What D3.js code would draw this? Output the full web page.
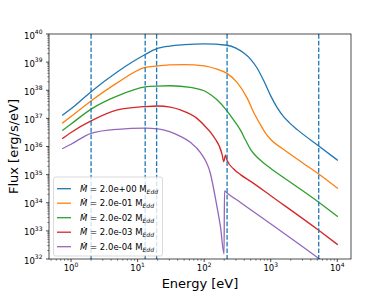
<!DOCTYPE html>
<html>
<head>
<meta charset="utf-8">
<script src="https://cdn.jsdelivr.net/npm/d3@7"></script>
<style>
  body { margin: 0; background: #fff; }
  text { font-family: "DejaVu Sans", sans-serif; fill: #000; }
</style>
</head>
<body>
<script>
// accretion rates shown in the legend
var rateLabels = ["2.0e+00", "2.0e-01", "2.0e-02", "2.0e-03", "2.0e-04"];
var colors = ["#1f77b4", "#ff7f0e", "#2ca02c", "#d62728", "#9467bd"];

// energies [eV] and log10 flux [erg/s/eV]
var energy0 = [0.75, 1, 2, 5, 13, 19, 30, 50, 100, 220, 300, 390, 500, 620, 800, 1000, 1250, 1560, 1900, 2500, 5200, 10000];
var logFlux0 = [37.12, 37.34, 37.95, 38.66, 39.27, 39.47, 39.57, 39.62, 39.65, 39.60, 39.50, 39.33, 39.10, 38.80, 38.30, 37.80, 37.38, 37.06, 36.85, 36.60, 36.03, 35.52];

var energy1 = [0.75, 1, 2, 5, 13, 19, 30, 50, 100, 156, 220, 312, 443, 558, 700, 850, 1000, 1240, 1640, 3000, 5260, 10000];
var logFlux1 = [36.84, 37.07, 37.62, 38.27, 38.81, 38.86, 38.90, 38.91, 38.87, 38.75, 38.60, 38.28, 37.72, 37.20, 36.78, 36.45, 36.25, 36.06, 35.86, 35.42, 35.02, 34.52];

var energy2 = [0.75, 1, 2, 5, 13, 19, 31, 62, 110, 156, 220, 278, 351, 420, 497, 600, 750, 1000, 1390, 2000, 5260, 10000];
var logFlux2 = [36.58, 36.80, 37.33, 37.80, 38.12, 38.15, 38.16, 38.10, 37.93, 37.66, 37.27, 36.94, 36.58, 36.22, 35.90, 35.66, 35.45, 35.22, 34.98, 34.72, 34.02, 33.52];

var energy3 = [0.75, 1, 2, 5, 13, 20, 31, 44, 78, 110, 139, 186, 197, 209, 220, 278, 351, 500, 1000, 5260, 10000];
var logFlux3 = [36.29, 36.50, 36.91, 37.30, 37.42, 37.44, 37.40, 37.30, 37.00, 36.65, 36.35, 35.72, 35.46, 35.69, 35.52, 35.20, 35.00, 34.76, 34.25, 33.02, 32.52];

var energy4 = [0.75, 1, 2, 5, 13, 20, 31, 44, 62, 88, 124, 156, 176, 199, 202, 220, 351, 5260, 10000];
var logFlux4 = [35.93, 36.08, 36.47, 36.61, 36.65, 36.63, 36.52, 36.36, 36.15, 35.78, 35.04, 33.85, 33.14, 32.18, 34.42, 34.35, 34.01, 32.02, 31.53];

var energies = [energy0, energy1, energy2, energy3, energy4];
var logFluxes = [logFlux0, logFlux1, logFlux2, logFlux3, logFlux4];

// dashed vertical markers [eV]
var markers = [2.0, 13.0, 19.3, 221, 5260];

var xTicks = [1, 10, 100, 1000, 10000];
var yTicks = [32, 33, 34, 35, 36, 37, 38, 39, 40];

var width = 390, height = 292;
var plotLeft = 49, plotRight = 351, plotTop = 34, plotBottom = 259;

var svg = d3.select("body").append("svg")
    .attr("width", width)
    .attr("height", height);

var x = d3.scaleLog().domain([Math.pow(10, -0.331), Math.pow(10, 4.206)]).range([plotLeft, plotRight]);
var y = d3.scaleLog().domain([1e32, 1e40]).range([plotBottom, plotTop]);

svg.append("clipPath").attr("id", "plot")
  .append("rect")
    .attr("x", plotLeft).attr("y", plotTop)
    .attr("width", plotRight - plotLeft).attr("height", plotBottom - plotTop);

var plot = svg.append("g").attr("clip-path", "url(#plot)");

// curves
var line = d3.line()
    .x(function(d) { return x(d[0]); })
    .y(function(d) { return y(Math.pow(10, d[1])); })
    .curve(d3.curveMonotoneX);

for (var i = 0; i < energies.length; i++) {
    var pts = energies[i].map(function(e, j) { return [e, logFluxes[i][j]]; });
    plot.append("path")
        .attr("d", line(pts))
        .attr("fill", "none")
        .attr("stroke", colors[i])
        .attr("stroke-width", 1.3)
        .attr("stroke-linejoin", "round")
        .attr("stroke-linecap", "square");
}

// vertical dashed lines
plot.selectAll("line.marker")
    .data(markers)
    .enter()
    .append("line")
    .attr("x1", function(d) { return x(d); })
    .attr("x2", function(d) { return x(d); })
    .attr("y1", plotTop)
    .attr("y2", plotBottom)
    .attr("stroke", "#1f77b4")
    .attr("stroke-width", 1.3)
    .attr("stroke-dasharray", "4.7,2");

// minor ticks
var xMinor = [];
for (var p = -1; p <= 4; p++) {
    for (var k = 2; k <= 9; k++) {
        var v = k * Math.pow(10, p);
        if (v >= x.domain()[0] && v <= x.domain()[1]) xMinor.push(v);
    }
}
svg.selectAll("line.xminor")
    .data(xMinor)
    .enter()
    .append("line")
    .attr("x1", function(d) { return x(d); })
    .attr("x2", function(d) { return x(d); })
    .attr("y1", plotBottom)
    .attr("y2", plotBottom + 1.7)
    .attr("stroke", "#000")
    .attr("stroke-width", 0.5);

var yMinor = [];
for (var p = 32; p < 40; p++) {
    for (var k = 2; k <= 9; k++) yMinor.push(k * Math.pow(10, p));
}
svg.selectAll("line.yminor")
    .data(yMinor)
    .enter()
    .append("line")
    .attr("x1", plotLeft - 1.7)
    .attr("x2", plotLeft)
    .attr("y1", function(d) { return y(d); })
    .attr("y2", function(d) { return y(d); })
    .attr("stroke", "#000")
    .attr("stroke-width", 0.5);

// major ticks and labels
var xt = svg.selectAll("g.xtick")
    .data(xTicks)
    .enter()
    .append("g")
    .attr("transform", function(d) { return "translate(" + x(d) + ",0)"; });
xt.append("line")
    .attr("y1", plotBottom).attr("y2", plotBottom + 3)
    .attr("stroke", "#000").attr("stroke-width", 0.7);
var xl = xt.append("text")
    .attr("y", 271)
    .attr("text-anchor", "middle")
    .style("font-size", "8.5px");
xl.append("tspan").text("10");
xl.append("tspan")
    .attr("dy", -4.5)
    .style("font-size", "6px")
    .text(function(d) { return Math.round(Math.log10(d)); });

var yt = svg.selectAll("g.ytick")
    .data(yTicks)
    .enter()
    .append("g")
    .attr("transform", function(d) { return "translate(0," + y(Math.pow(10, d)) + ")"; });
yt.append("line")
    .attr("x1", plotLeft - 3).attr("x2", plotLeft)
    .attr("stroke", "#000").attr("stroke-width", 0.7);
var yl = yt.append("text")
    .attr("x", 42.5)
    .attr("y", 4.5)
    .attr("text-anchor", "end")
    .style("font-size", "8.5px");
yl.append("tspan").text("10");
yl.append("tspan")
    .attr("dy", -4.5)
    .style("font-size", "6px")
    .text(function(d) { return d; });

// frame
svg.append("rect")
    .attr("x", plotLeft).attr("y", plotTop)
    .attr("width", plotRight - plotLeft).attr("height", plotBottom - plotTop)
    .attr("fill", "none")
    .attr("stroke", "#000")
    .attr("stroke-width", 0.7);

// axis labels
svg.append("text")
    .attr("x", (plotLeft + plotRight) / 2)
    .attr("y", 287.5)
    .attr("text-anchor", "middle")
    .style("font-size", "13px")
    .text("Energy [eV]");

svg.append("text")
    .attr("transform", "translate(18," + ((plotTop + plotBottom) / 2) + ") rotate(-90)")
    .attr("text-anchor", "middle")
    .style("font-size", "13px")
    .text("Flux [erg/s/eV]");

// legend
var legend = svg.append("g");
legend.append("rect")
    .attr("x", 53.5).attr("y", 177)
    .attr("width", 109).attr("height", 79)
    .attr("rx", 2).attr("ry", 2)
    .attr("fill", "#fff").attr("fill-opacity", 0.8)
    .attr("stroke", "#cccccc").attr("stroke-width", 0.7);

var rows = legend.selectAll("g.row")
    .data(rateLabels)
    .enter()
    .append("g")
    .attr("transform", function(d, i) { return "translate(0," + (188.7 + i * 14.5) + ")"; });
rows.append("line")
    .attr("x1", 57).attr("x2", 71)
    .attr("stroke", function(d, i) { return colors[i]; })
    .attr("stroke-width", 1.3);
var lt = rows.append("text")
    .attr("x", 80)
    .attr("y", 3)
    .style("font-size", "8.5px");
lt.append("tspan").style("font-style", "italic").text("\u1E40");
lt.append("tspan").text(function(d) { return " = " + d + " M"; });
lt.append("tspan")
    .attr("dy", 2)
    .style("font-size", "6px")
    .style("font-style", "italic")
    .text("Edd");
</script>
</body>
</html>
